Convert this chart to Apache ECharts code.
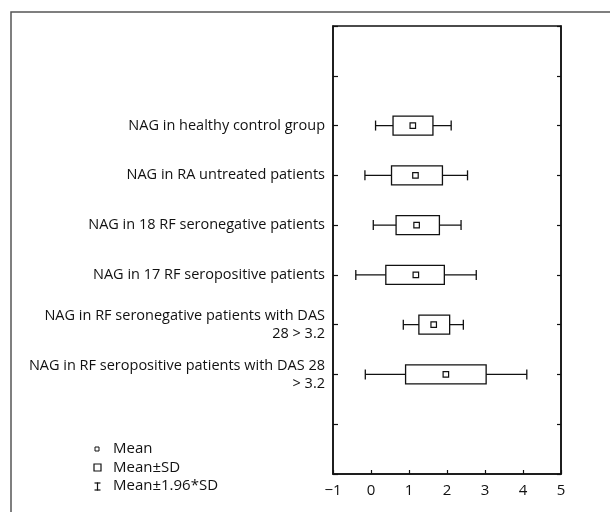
<!DOCTYPE html>
<html>
<head>
<meta charset="utf-8">
<script src="https://cdn.jsdelivr.net/npm/echarts@6/dist/echarts.min.js"></script>
<style>
html,body{margin:0;padding:0;background:#fff;}
#chart{width:610px;height:512px;}
</style>
</head>
<body>
<div id="chart"></div>
<script>
// Data
var categories = [
  'NAG in healthy control group',
  'NAG in RA untreated patients',
  'NAG in 18 RF seronegative patients',
  'NAG in 17 RF seropositive patients',
  'NAG in RF seronegative patients with DAS\n28 > 3.2',
  'NAG in RF seropositive patients with DAS 28\n> 3.2'
];
var means      = [1.10, 1.17, 1.20, 1.18, 1.65, 1.97];
var sdLow      = [0.58, 0.54, 0.66, 0.39, 1.26, 0.91];
var sdHigh     = [1.63, 1.88, 1.80, 1.93, 2.07, 3.03];
var ciLow      = [0.12, -0.16, 0.06, -0.40, 0.85, -0.15];
var ciHigh     = [2.11, 2.54, 2.37, 2.77, 2.43, 4.10];
var xTicks     = [-1, 0, 1, 2, 3, 4, 5];

var FONT = '"Open Sans"';
var INK = '#111';
var FS = 15;

// padded category axis: two empty slots above and below
var yCats = ['', ''].concat(categories, ['', '']);
var OFFSET = 2;

var meanData = [], sdData = [], ciData = [];
for (var i = 0; i < categories.length; i++) {
  meanData.push([means[i], i + OFFSET]);
  sdData.push([i + OFFSET, sdLow[i], sdHigh[i]]);
  ciData.push([i + OFFSET, ciLow[i], ciHigh[i]]);
}

var chart = echarts.init(document.getElementById('chart'), null, {renderer: 'canvas'});

var option = {
  animation: false,
  backgroundColor: '#fff',
  grid: {
    left: 333, top: 26, width: 228, height: 448,
    show: true, borderColor: INK, borderWidth: 1.5, backgroundColor: 'transparent'
  },
  xAxis: {
    type: 'value', min: xTicks[0], max: xTicks[xTicks.length - 1], interval: 1,
    axisLine: {show: true, onZero: false, lineStyle: {color: INK, width: 1.5}},
    axisTick: {show: true, inside: true, length: 4, lineStyle: {color: INK, width: 1.2}},
    splitLine: {show: false},
    axisLabel: {
      color: INK, fontFamily: FONT, fontSize: FS, margin: 9,
      formatter: function (v) { return String(v).replace('-', '\u2212'); }
    }
  },
  yAxis: [{
    type: 'category', data: yCats, inverse: true, boundaryGap: false,
    axisLine: {show: true, onZero: false, lineStyle: {color: INK, width: 1.5}},
    axisTick: {show: true, inside: true, length: 5, interval: 0, lineStyle: {color: INK, width: 1.2}},
    axisLabel: {
      color: INK, fontFamily: FONT, fontSize: 14.5, margin: 8, interval: 0,
      align: 'right', lineHeight: 18
    },
    splitLine: {show: false}
  }, {
    type: 'category', data: yCats, inverse: true, boundaryGap: false, position: 'right',
    axisLine: {show: true, onZero: false, lineStyle: {color: INK, width: 1.5}},
    axisTick: {show: true, inside: true, length: 4, interval: 0, lineStyle: {color: INK, width: 1.2}},
    axisLabel: {show: false},
    splitLine: {show: false}
  }],
  series: [{
    name: 'Mean\u00b11.96*SD',
    type: 'custom',
    z: 1,
    renderItem: function (params, api) {
      var y = api.value(0), lo = api.value(1), hi = api.value(2);
      var a = api.coord([lo, y]), b = api.coord([hi, y]);
      var h = 5;
      var st = {stroke: INK, lineWidth: 1.3, fill: null};
      return {type: 'group', children: [
        {type: 'line', shape: {x1: a[0], y1: a[1], x2: b[0], y2: b[1]}, style: st},
        {type: 'line', shape: {x1: a[0], y1: a[1] - h, x2: a[0], y2: a[1] + h}, style: st},
        {type: 'line', shape: {x1: b[0], y1: b[1] - h, x2: b[0], y2: b[1] + h}, style: st}
      ]};
    },
    data: ciData
  }, {
    name: 'Mean\u00b1SD',
    type: 'custom',
    z: 2,
    renderItem: function (params, api) {
      var y = api.value(0), lo = api.value(1), hi = api.value(2);
      var a = api.coord([lo, y]), b = api.coord([hi, y]);
      var h = 9.5;
      return {type: 'rect', shape: {x: a[0], y: a[1] - h, width: b[0] - a[0], height: 2 * h},
        style: {fill: '#fff', stroke: INK, lineWidth: 1.3}};
    },
    data: sdData
  }, {
    name: 'Mean',
    type: 'scatter',
    z: 3,
    symbol: 'rect',
    symbolSize: 5.5,
    itemStyle: {color: '#fff', borderColor: INK, borderWidth: 1.2, opacity: 1},
    data: meanData
  }],
  graphic: [
    // outer frame (top and left)
    {type: 'polyline', z: 10, shape: {points: [[11, 512], [11, 12], [610, 12]]},
      style: {stroke: '#555', lineWidth: 1.5, fill: null}},
    // legend
    {type: 'rect', shape: {x: 95, y: 447, width: 4, height: 4}, style: {fill: '#fff', stroke: INK, lineWidth: 1}},
    {type: 'text', style: {x: 113, y: 449, text: 'Mean', fill: INK, font: FS + 'px ' + FONT, verticalAlign: 'middle'}},
    {type: 'rect', shape: {x: 94, y: 464, width: 7, height: 7}, style: {fill: '#fff', stroke: INK, lineWidth: 1.2}},
    {type: 'text', style: {x: 113, y: 467.5, text: 'Mean\u00b1SD', fill: INK, font: FS + 'px ' + FONT, verticalAlign: 'middle'}},
    {type: 'line', shape: {x1: 97.5, y1: 482.5, x2: 97.5, y2: 490.5}, style: {stroke: INK, lineWidth: 1.2}},
    {type: 'line', shape: {x1: 94.5, y1: 483, x2: 100.5, y2: 483}, style: {stroke: INK, lineWidth: 1.2}},
    {type: 'line', shape: {x1: 94.5, y1: 490, x2: 100.5, y2: 490}, style: {stroke: INK, lineWidth: 1.2}},
    {type: 'text', style: {x: 113, y: 486, text: 'Mean\u00b11.96*SD', fill: INK, font: FS + 'px ' + FONT, verticalAlign: 'middle'}}
  ]
};
chart.setOption(option);
</script>
</body>
</html>
